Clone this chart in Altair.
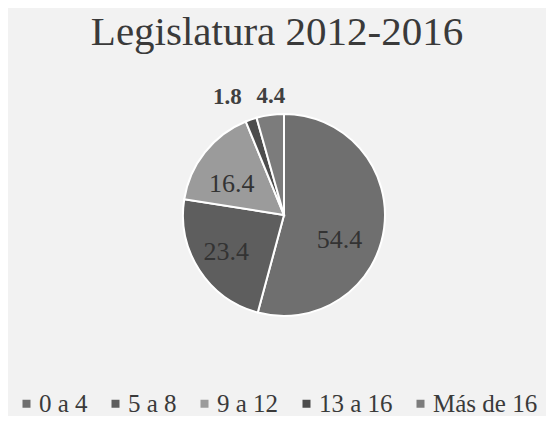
import altair as alt
import pandas as pd

categories = ["0 a 4", "5 a 8", "9 a 12", "13 a 16", "Más de 16"]
values = [54.4, 23.4, 16.4, 1.8, 4.4]
colors = ["#6f6f6f", "#5e5e5e", "#9b9b9b", "#4d4d4d", "#7c7c7c"]

df = pd.DataFrame({"cat": categories, "value": values, "idx": list(range(len(categories)))})

CX, CY = 276, 159
FONT = "Liberation Serif"
LABEL = alt.Text("value:Q", format=".1f")

base = alt.Chart(df).encode(
    theta=alt.Theta("value:Q", stack=True),
    order=alt.Order("idx:Q"),
    x=alt.value(CX),
    y=alt.value(CY),
)

arcs = base.mark_arc(outerRadius=101, stroke="white", strokeWidth=2).encode(
    color=alt.Color(
        "cat:N",
        scale=alt.Scale(domain=categories, range=colors),
        sort=categories,
        legend=alt.Legend(
            title=None,
            orient="none",
            direction="horizontal",
            legendX=6,
            legendY=335,
            symbolType="square",
            symbolSize=64,
            symbolStrokeWidth=0,
            labelFont=FONT,
            labelFontSize=25,
            labelColor="#3a3a3a",
            labelOffset=0,
            columnPadding=15,
        ),
    )
)

inside_big = base.mark_text(radius=64, dy=17, dx=-8, font=FONT, fontSize=26, color="#333333").encode(
    text=alt.condition("datum.value >= 50", LABEL, alt.value(""))
)

inside_mid = base.mark_text(radius=64, dy=2, dx=-4, font=FONT, fontSize=26, color="#333333").encode(
    text=alt.condition("datum.value >= 20 && datum.value < 50", LABEL, alt.value(""))
)

inside_small = base.mark_text(radius=64, dy=9, dx=-2, font=FONT, fontSize=26, color="#333333").encode(
    text=alt.condition("datum.value >= 10 && datum.value < 20", LABEL, alt.value(""))
)

outside_a = base.mark_text(radius=125, dx=-16, font=FONT, fontSize=23, fontWeight="bold", color="#404040").encode(
    text=alt.condition("datum.value < 3", LABEL, alt.value(""))
)

outside_b = base.mark_text(radius=125, dx=4, dy=5, font=FONT, fontSize=23, fontWeight="bold", color="#404040").encode(
    text=alt.condition("datum.value >= 3 && datum.value < 10", LABEL, alt.value(""))
)

chart = (
    alt.layer(arcs, inside_big, inside_mid, inside_small, outside_a, outside_b)
    .properties(
        width=538,
        height=360,
        autosize=alt.AutoSizeParams(type="none"),
        padding={"top": 48, "left": 0, "right": 0, "bottom": 0},
        title=alt.TitleParams(
            "Legislatura 2012-2016",
            font=FONT,
            fontSize=41,
            fontWeight="normal",
            color="#3a3a3a",
            anchor="middle",
            baseline="alphabetic",
            offset=0,
            dy=30,
        ),
    )
    .configure(background="#f2f2f2")
    .configure_view(stroke=None)
)

chart.save("out.html", embed_options={"renderer": "svg", "actions": False})
